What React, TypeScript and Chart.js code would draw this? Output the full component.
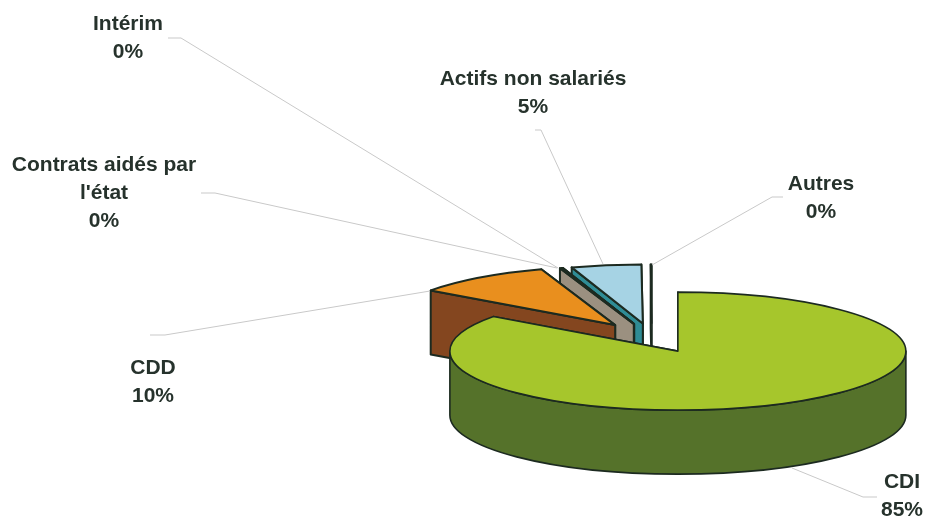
import React, { useEffect, useRef } from "react";
import { Chart, registerables } from "chart.js";

Chart.register(...registerables);

const categories = ["CDI", "CDD", "Contrats aidés par l'état", "Intérim", "Actifs non salariés", "Autres"];
const shares = [85.0, 9.75, 0.15, 0.05, 4.95, 0.1];
const topColors = ["#a6c62c", "#e98f1e", "#8f8f80", "#3a6f75", "#a6d3e4", "#ffffff"];
const sideColors = ["#55722a", "#84461f", "#9b9080", "#2f8c95", "#2f8c95", "#ffffff"];
const explode = [57, 62, 57, 57, 57, 57];

// Label layout: category index, text lines' centre x and first line middle y; leader polyline.
const labelLayout = [
  { index: 3, lines: ["Intérim"], x: 128, y: 24.5, leader: [[168, 38], [181, 38], [558, 268]] },
  { index: 4, lines: ["Actifs non salariés"], x: 533, y: 79, leader: [[535, 130], [541, 130], [603, 264]] },
  { index: 2, lines: ["Contrats aidés par", "l'état"], x: 104, y: 165.5, leader: [[201, 193], [215, 193], [557, 268]] },
  { index: 5, lines: ["Autres"], x: 821, y: 184, leader: [[783, 197], [772, 197], [652, 265]] },
  { index: 1, lines: ["CDD"], x: 153, y: 368, leader: [[150, 335], [165, 335], [430, 291]] },
  { index: 0, lines: ["CDI"], x: 902, y: 482, leader: [[792, 468], [863, 497], [877, 497]] },
];

const PIE_CENTER = { x: 652, y: 338 };
const SQUASH = 59 / 228;
const DEPTH = 64;
const OUTLINE = "#1c2a20";
const LINE_WIDTHS = [1.6, 2, 2, 2, 2, 1.4];

const pie3d = {
  id: "pie3d",
  beforeDatasetsDraw(chart: any) {
    const { ctx } = chart;
    const meta = chart.getDatasetMeta(0);
    ctx.save();
    ctx.lineJoin = "round";
    ctx.strokeStyle = OUTLINE;
    // Back-most slices first, the large front slice last.
    for (let i = meta.data.length - 1; i >= 0; i--) {
      const el = meta.data[i];
      const { startAngle: a0, endAngle: a1, outerRadius: rx } = el;
      const ry = rx * SQUASH;
      const off = el.options.offset || 0;
      const mid = (a0 + a1) / 2;
      const cx = PIE_CENTER.x + Math.cos(mid) * off;
      const cy = PIE_CENTER.y + Math.sin(mid) * off * SQUASH;
      const px = (a: number) => cx + rx * Math.cos(a);
      const py = (a: number) => cy + ry * Math.sin(a);
      ctx.lineWidth = LINE_WIDTHS[i];
      ctx.fillStyle = sideColors[i];
      // Cut faces: the hidden one first, the one facing the viewer last.
      for (const a of [a1, a0]) {
        ctx.beginPath();
        ctx.moveTo(cx, cy);
        ctx.lineTo(px(a), py(a));
        ctx.lineTo(px(a), py(a) + DEPTH);
        ctx.lineTo(cx, cy + DEPTH);
        ctx.closePath();
        ctx.fill();
        ctx.stroke();
      }
      // Outer wall, front half only
      const f0 = Math.max(a0, 0);
      const f1 = Math.min(a1, Math.PI);
      if (f1 > f0) {
        ctx.beginPath();
        ctx.ellipse(cx, cy, rx, ry, 0, f0, f1);
        ctx.lineTo(px(f1), py(f1) + DEPTH);
        ctx.ellipse(cx, cy + DEPTH, rx, ry, 0, f1, f0, true);
        ctx.closePath();
        ctx.fill();
        ctx.stroke();
      }
      // Top face
      ctx.fillStyle = el.options.backgroundColor;
      ctx.beginPath();
      ctx.moveTo(cx, cy);
      ctx.ellipse(cx, cy, rx, ry, 0, a0, a1);
      ctx.closePath();
      ctx.fill();
      ctx.stroke();
    }
    ctx.restore();
    return false;
  },
  afterDraw(chart: any) {
    const { ctx } = chart;
    const values = chart.data.datasets[0].data as number[];
    const total = values.reduce((s, v) => s + v, 0);
    ctx.save();
    ctx.strokeStyle = "#c9c9c9";
    ctx.lineWidth = 1;
    for (const item of labelLayout) {
      ctx.beginPath();
      item.leader.forEach(([px, py], k) => (k ? ctx.lineTo(px, py) : ctx.moveTo(px, py)));
      ctx.stroke();
    }
    ctx.fillStyle = "#26322c";
    ctx.font = "bold 21px 'Liberation Sans', Arial, sans-serif";
    ctx.textAlign = "center";
    ctx.textBaseline = "middle";
    for (const item of labelLayout) {
      const pct = Math.round((values[item.index] / total) * 100) + "%";
      [...item.lines, pct].forEach((t, k) => ctx.fillText(t, item.x, item.y + k * 27.8));
    }
    ctx.restore();
  },
};

export default function App() {
  const ref = useRef<HTMLCanvasElement>(null);
  useEffect(() => {
    const chart = new Chart(ref.current as HTMLCanvasElement, {
      type: "pie",
      data: {
        labels: categories,
        datasets: [{ data: shares, backgroundColor: topColors, offset: explode, radius: 228, borderWidth: 0 }],
      },
      options: {
        animation: false,
        responsive: false,
        plugins: { legend: { display: false }, tooltip: { enabled: false } },
      } as any,
      plugins: [pie3d as any],
    });
    return () => chart.destroy();
  }, []);
  return (
    <div style={{ position: "absolute", left: 0, top: 0, width: 925, height: 518, background: "#fff" }}>
      <canvas ref={ref} width={925} height={518} style={{ display: "block" }} />
    </div>
  );
}
